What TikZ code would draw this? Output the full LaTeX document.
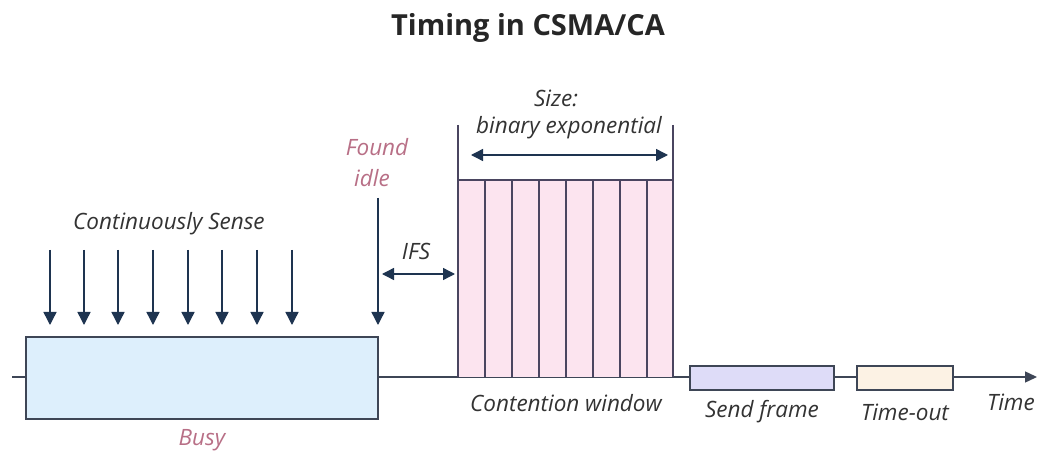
\documentclass[tikz,border=0pt]{standalone}
\usepackage{fontspec}
\setmainfont{Open Sans}
\usetikzlibrary{arrows.meta}

\definecolor{inkline}{HTML}{3E4656}
\definecolor{arrowc}{HTML}{1E3450}
\definecolor{txt}{HTML}{333333}
\definecolor{mauve}{HTML}{B86F86}
\definecolor{busyfill}{HTML}{DDEFFC}
\definecolor{cwfill}{HTML}{FCE4EF}
\definecolor{cwline}{HTML}{4A4560}
\definecolor{sendfill}{HTML}{DEDCF8}
\definecolor{tofill}{HTML}{FCF2E4}

\tikzset{
  lbl/.style={font=\fontsize{22.5}{26}\selectfont\itshape, text=txt, inner sep=0pt},
  pinklbl/.style={lbl, text=mauve},
  slot/.style={draw=inkline, line width=1.6pt, inner sep=0pt, anchor=center},
  sense/.style={draw=arrowc, line width=1.4pt, -{Triangle[length=13pt,width=13pt]}},
  span/.style={draw=arrowc, line width=1.4pt, {Triangle[length=12pt,width=12pt]}-{Triangle[length=12pt,width=12pt]}},
  cwrule/.style={draw=cwline, line width=1.4pt},
}

\begin{document}
\begin{tikzpicture}[x=1pt,y=-1pt]
\useasboundingbox (0,0) rectangle (1037,457);
\fill[white] (0,0) rectangle (1037,457);

% title
\node[font=\fontsize{29}{34}\selectfont\bfseries, text=black!85] (title) at (528,28) {Timing in CSMA/CA};

% time axis
\coordinate (t0) at (12,377);
\coordinate (t1) at (1037,377);
\draw[draw=inkline, line width=1.4pt, -{Triangle[length=12pt,width=11pt]}] (t0) -- (t1);

% busy period
\node[slot, fill=busyfill, minimum width=352pt, minimum height=82pt] (busy) at (202,378) {};
\node[pinklbl] (busylbl) at (202,440) {Busy};

% carrier sensing arrows
\node[lbl] (senselbl) at (169,224) {Continuously Sense};
\foreach \i/\x in {1/50,2/84,3/118,4/153,5/188,6/222,7/257,8/292}{
  \coordinate (s\i) at (\x,250);
  \coordinate (e\i) at (\x,325);
  \draw[sense] (s\i) -- (e\i);
}

% found idle
\node[pinklbl] (found) at (377,147) {Found};
\node[pinklbl] (idle) at (372,178) {idle};
\coordinate (fi0) at (378,198);
\coordinate (fi1) at (378,325);
\draw[sense] (fi0) -- (fi1);

% inter-frame space
\node[lbl] (ifs) at (416,251) {IFS};
\coordinate (ifsa) at (382,274);
\coordinate (ifsb) at (455,274);
\draw[span] (ifsa) -- (ifsb);

% contention window
\fill[cwfill] (458,180) rectangle (673,377);
\foreach \x in {485,512,539,566,593,620,647}{
  \draw[cwrule] (\x,180) -- (\x,377);
}
\draw[cwrule] (458,125) -- (458,377);
\draw[cwrule] (673,125) -- (673,377);
\draw[cwrule] (458,180) -- (673,180);
\node[lbl] (cwlbl) at (566,403) {Contention window};
\node[lbl] (size) at (556,98) {Size:};
\node[lbl] (bexp) at (569,128) {binary exponential};
\coordinate (cwa) at (471,155);
\coordinate (cwb) at (668,155);
\draw[span] (cwa) -- (cwb);

% frame and timeout
\node[slot, fill=sendfill, minimum width=144pt, minimum height=24pt] (send) at (762,378) {};
\node[lbl] (sendlbl) at (762,412) {Send frame};
\node[slot, fill=tofill, minimum width=96pt, minimum height=24pt] (tout) at (905,378) {};
\node[lbl] (toutlbl) at (905,412) {Time-out};
\node[lbl, anchor=east] (timelbl) at (1035,402) {Time};
\end{tikzpicture}
\end{document}
